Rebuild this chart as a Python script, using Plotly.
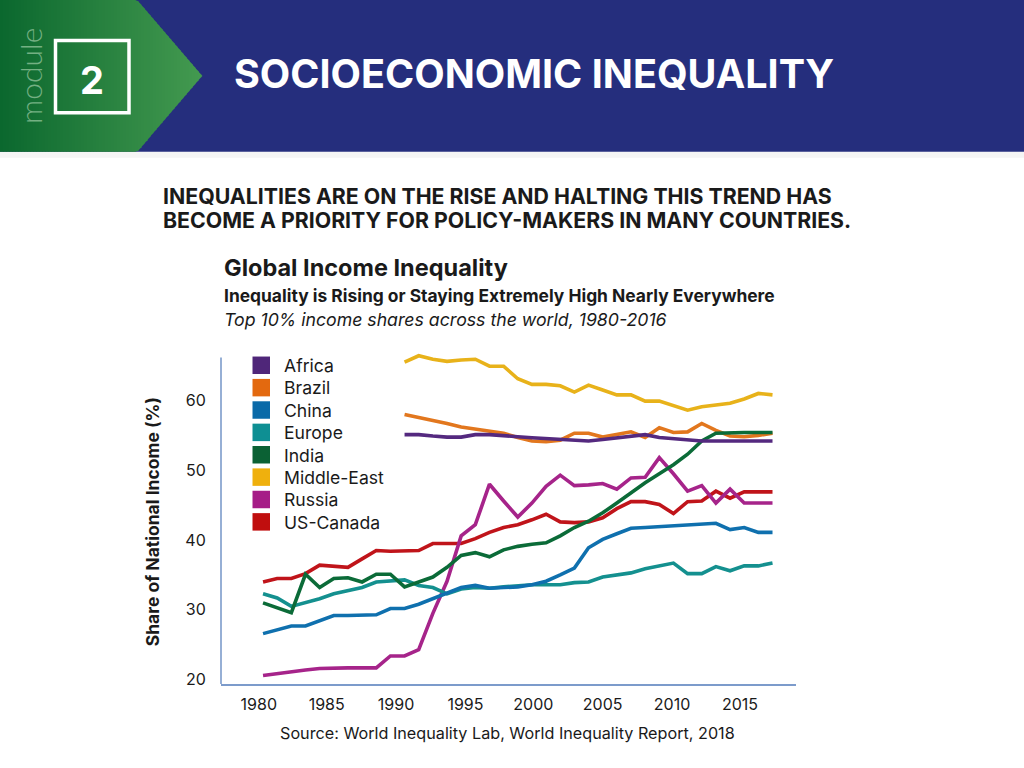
import plotly.graph_objects as go

years = list(range(1980, 2017))
years_late = list(range(1990, 2017))

africa = [55.1,55.1,54.9,54.75,54.75,55.1,55.1,55.0,54.8,54.65,54.55,54.4,54.3,54.2,54.4,54.65,54.9,55.1,54.7,54.5,54.4,54.2,54.2,54.2,54.2,54.2,54.2]
brazil = [58.0,57.6,57.2,56.7,56.2,55.9,55.6,55.3,54.7,54.2,54.1,54.3,55.3,55.3,54.75,55.1,55.5,54.7,56.1,55.4,55.5,56.7,55.7,54.9,54.8,55.0,55.3]
china = [26.6,27.1,27.7,27.7,28.4,29.2,29.2,29.2,29.3,30.2,30.2,30.8,31.6,32.4,33.2,33.5,33.1,33.2,33.3,33.6,34.1,35.0,36.0,38.9,40.1,40.9,41.7,41.8,41.9,42.0,42.1,42.3,42.4,41.5,41.8,41.1,41.1]
europe = [32.3,31.7,30.5,31.0,31.6,32.3,32.8,33.2,34.0,34.2,34.3,33.5,33.2,32.3,33.0,33.2,33.1,33.3,33.5,33.6,33.6,33.6,33.9,34.0,34.7,35.0,35.3,35.9,36.3,36.7,35.2,35.2,36.2,35.6,36.3,36.3,36.7]
india = [31.0,30.3,29.6,35.1,33.2,34.5,34.6,34.0,35.1,35.1,33.3,34.0,34.7,36.1,37.8,38.2,37.6,38.6,39.1,39.4,39.6,40.6,41.8,42.7,43.9,45.3,46.8,48.2,49.5,50.8,52.3,54.2,55.3,55.4,55.4,55.4,55.4]
middle_east = [65.5,66.4,65.9,65.6,65.8,65.9,64.9,64.9,63.1,62.3,62.3,62.1,61.2,62.2,61.5,60.8,60.8,59.9,59.9,59.2,58.6,59.1,59.4,59.6,60.2,61.0,60.8]
russia = [20.6,20.9,21.1,21.4,21.6,21.7,21.7,21.7,21.7,23.4,23.4,24.3,29.5,34.1,40.6,42.2,48.0,45.6,43.3,45.3,47.7,49.3,47.8,47.9,48.1,47.3,48.9,49.0,51.8,49.5,47.0,47.8,45.3,47.3,45.3,45.3,45.3]
us_canada = [34.0,34.5,34.5,35.2,36.4,36.3,36.1,37.3,38.5,38.4,38.4,38.5,39.5,39.5,39.5,40.2,41.1,41.8,42.2,42.9,43.7,42.6,42.5,42.6,43.2,44.5,45.5,45.5,45.1,43.8,45.5,45.6,47.0,46.0,46.9,46.9,46.9]

legend_names = ["Africa","Brazil","China","Europe","India","Middle-East","Russia","US-Canada"]
legend_colors = ["#4f2679","#e3690f","#0a6aa8","#0e8f93","#0b6134","#efb00d","#a61c87","#c00e0e"]

draw_order = [
    ("Brazil", years_late, brazil, "#e2771e"),
    ("Middle-East", years_late, middle_east, "#e8b21a"),
    ("US-Canada", years, us_canada, "#c0141a"),
    ("Russia", years, russia, "#a6248a"),
    ("Europe", years, europe, "#14908f"),
    ("China", years, china, "#0f70ae"),
    ("India", years, india, "#0b6b38"),
    ("Africa", years_late, africa, "#54297f"),
]

x_tick_positions = [1979.7,1984.5,1989.4,1994.3,1999.1,2004.0,2008.9,2013.7]
x_tick_labels = ["1980","1985","1990","1995","2000","2005","2010","2015"]
y_ticks = [20,30,40,50,60]

FONT = "Inter"
fig = go.Figure()
for name, xs, ys, col in draw_order:
    fig.add_trace(go.Scatter(x=xs, y=ys, mode="lines", name=name, showlegend=False,
                             line=dict(color=col, width=3.6)))
fig.add_trace(go.Scatter(x=[0], y=[0], xaxis="x2", yaxis="y2", mode="markers",
                         marker=dict(opacity=0), showlegend=False, hoverinfo="skip"))

shapes = []
def P(**k):
    k.setdefault("xref","x2"); k.setdefault("yref","y2"); k.setdefault("layer","below")
    shapes.append(k)

axis_col = "#7c9bcb"
P(type="rect", x0=0, x1=1024, y0=152, y1=158, fillcolor="#f5f5f5", line_width=0)
P(type="rect", x0=0, x1=1024, y0=0, y1=152, fillcolor="#252e7d", line_width=0)
c0, c1 = (11,104,46), (68,154,80)
step = 3
for sx in range(0, 202, step):
    e = min(sx+step, 202)
    def half(x):
        return 0 if x <= 137 else (x-137)/65*76
    t = sx/202
    col = "rgb(%d,%d,%d)" % tuple(round(a+(b-a)*t) for a,b in zip(c0,c1))
    a, b = half(sx), half(e)
    path = f"M {sx} {a} L {e+0.5} {b} L {e+0.5} {152-b} L {sx} {152-a} Z"
    P(type="path", path=path, fillcolor=col, line_width=0)
P(type="rect", x0=55.5, x1=129, y0=40.5, y1=113, line=dict(color="white", width=3.5), fillcolor="rgba(0,0,0,0)")
for i, c in enumerate(legend_colors):
    P(type="rect", x0=252.5, x1=270, y0=357+22.4*i, y1=374.5+22.4*i, fillcolor=c, line_width=0)
P(type="line", x0=221, x1=221, y0=358, y1=685, line=dict(color=axis_col, width=1.6))

def T(text, x, y, size, color="#1a1a1a", bold=False, italic=False, anchor="left", angle=0, family=FONT):
    if bold: text = f"<b>{text}</b>"
    if italic: text = f"<i>{text}</i>"
    return dict(text=text, x=x, y=y, xref="x2", yref="y2", showarrow=False, xanchor=anchor, yanchor="middle",
                font=dict(size=size, color=color, family=family), textangle=angle, align=anchor if anchor!="middle" else "center")

ann = [
    T("module", 30, 76, 30, color="#74b083", anchor="center", angle=-90, family="Lato Light, Lato"),
    T("2", 92, 80, 38, color="white", bold=True, anchor="center"),
    T("SOCIOECONOMIC INEQUALITY", 534, 74, 39.5, color="white", bold=True, anchor="center"),
    T("INEQUALITIES ARE ON THE RISE AND HALTING THIS TREND HAS", 161, 196, 21.3, bold=True),
    T("BECOME A PRIORITY FOR POLICY-MAKERS IN MANY COUNTRIES.", 161, 220, 21.3, bold=True),
    T("Global Income Inequality", 222, 268, 23.5, bold=True),
    T("Inequality is Rising or Staying Extremely High Nearly Everywhere", 222, 296, 17.4, bold=True),
    T("Top 10% income shares across the world, 1980-2016", 222, 320, 17.7, italic=True),
    T("Source: World Inequality Lab, World Inequality Report, 2018", 278, 734, 16.2),
    T("Share of National Income (%)", 152, 523, 17.5, bold=True, anchor="center", angle=-90),
]
for i, n in enumerate(legend_names):
    ann.append(T(n, 282, 366+22.4*i, 17.6))

fig.update_layout(
    width=1024, height=773, margin=dict(l=0,r=0,t=0,b=0), paper_bgcolor="white", plot_bgcolor="rgba(0,0,0,0)",
    font=dict(family=FONT, color="#1a1a1a"), shapes=shapes, annotations=ann, showlegend=False,
    xaxis=dict(domain=[221/1024,796/1024], range=[1977.03,2017.66], tickmode="array",
               tickvals=x_tick_positions, ticktext=x_tick_labels, showgrid=False, zeroline=False,
               showline=True, linecolor=axis_col, linewidth=1.6, ticks="outside", ticklen=5,
               tickcolor="rgba(0,0,0,0)", tickfont=dict(size=16)),
    yaxis=dict(domain=[(768-684.5)/768,(768-350)/768], range=[19.44,67.29], tickmode="array",
               tickvals=y_ticks, showgrid=False, zeroline=False, showline=False,
               ticks="outside", ticklen=11, tickcolor="rgba(0,0,0,0)", tickfont=dict(size=16)),
    xaxis2=dict(domain=[0,1], range=[0,1024], visible=False, anchor="y2", fixedrange=True),
    yaxis2=dict(domain=[0,1], range=[768,0], visible=False, anchor="x2", fixedrange=True),
)
fig.write_html("out.html", post_script="document.documentElement.style.overflow='hidden';document.body.style.margin='0';document.body.style.overflow='hidden';", config=dict(displayModeBar=False))
